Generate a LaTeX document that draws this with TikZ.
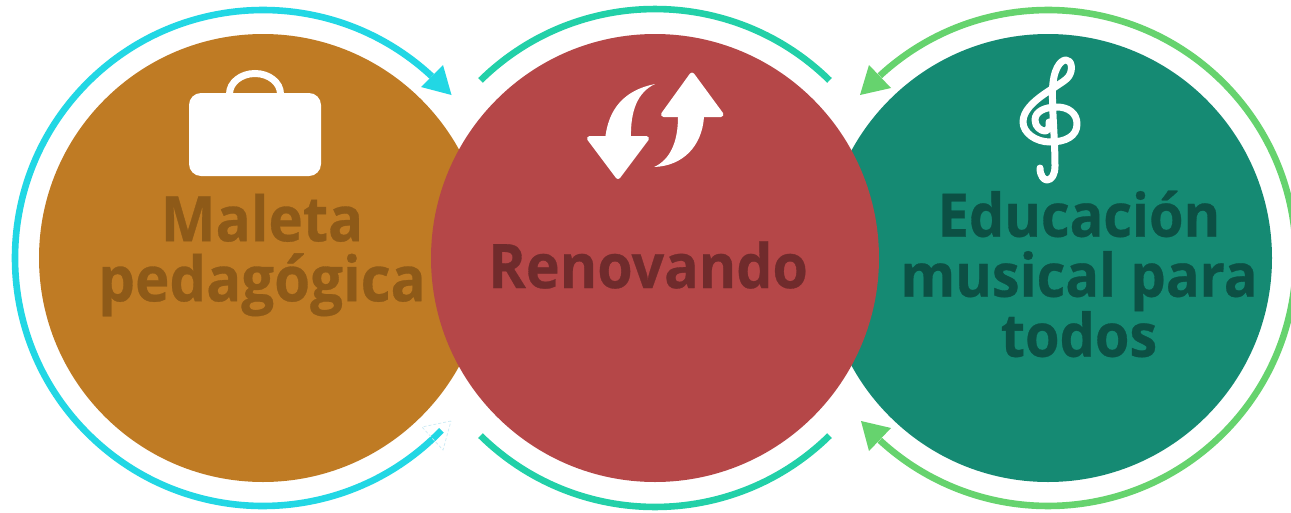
\documentclass[tikz,border=0pt]{standalone}
\usepackage{fontspec}
\setmainfont{Open Sans}
\newfontfamily\lblfont{Open Sans}[UprightFont={* Bold},FakeStretch=0.93,FakeBold=0.5]
\usetikzlibrary{calc}
\definecolor{cOch}{HTML}{BF7B24}
\definecolor{cRed}{HTML}{B54748}
\definecolor{cTeal}{HTML}{158A73}
\definecolor{tOch}{HTML}{8E5A18}
\definecolor{tRed}{HTML}{702B2C}
\definecolor{tTeal}{HTML}{0C5044}
\definecolor{rCyan}{HTML}{22D7E4}
\definecolor{rMint}{HTML}{22D0A8}
\definecolor{rGreen}{HTML}{66D36E}
\definecolor{rFaint}{HTML}{CDEBF5}
\tikzset{
  disc/.style={circle,minimum size=448pt,inner sep=0pt,fill=#1},
  lbl/.style={align=center,inner sep=0pt,text=#1},
  ring/.style={line width=6.6pt,draw=#1},
  glyph/.style={fill=white,draw=white,line join=round},
}
\begin{document}
\begin{tikzpicture}[x=1pt,y=-1pt]
\useasboundingbox (0,0) rectangle (1291,512);
\clip (0,0) rectangle (1291,512);
\fill[white] (0,0) rectangle (1291,512);
% discs
\node[disc=cOch] (L) at (263,258) {};
\node[disc=cTeal] (R) at (1048,258) {};
\node[disc=cRed] (M) at (655,258) {};
% left ring
\draw[ring=rCyan] ($(L)+(-47.1:248)$) arc[start angle=-47.1,end angle=-316,radius=248];
\fill[rCyan] (451.5,95) -- (443,65) -- (421,87) -- cycle;
% faint outline
\coordinate (fa) at (451,421);
\coordinate (fb) at (422,427);
\coordinate (fc) at (443,450);
\draw[rFaint,line width=.7pt,densely dashed] (fa) -- (fb) -- (fc) -- cycle;
% middle ring
\draw[ring=rMint] ($(M)+(-134.5:249)$) arc[start angle=-134.5,end angle=-45.5,radius=249];
\draw[ring=rMint] ($(M)+(134.5:249)$) arc[start angle=134.5,end angle=45.5,radius=249];
% right ring
\draw[ring=rGreen] ($(R)+(-132.7:248)$) arc[start angle=-132.7,end angle=132.7,radius=248];
\fill[rGreen] (860,95) -- (869,65) -- (891,88) -- cycle;
\fill[rGreen] (861,421) -- (891,428) -- (869,451) -- cycle;
% briefcase
\fill[white,rounded corners=12pt] (189,93) rectangle (321,176);
\draw[white,line width=7pt] (229.5,94) arc[start angle=180,end angle=360,x radius=25.5,y radius=20.5];
% refresh arrows
\fill[white] (605,140) .. controls (608,108) and (625,90) .. (655,84) .. controls (638,92) and (630,110) .. (631,140) -- cycle;
\draw[glyph,line width=5pt] (618,176.5) -- (589.5,138.5) -- (646.5,138.5) -- cycle;
\fill[white] (678,112) -- (678,117) .. controls (678,142) and (670,160) .. (654,167) .. controls (683,166) and (702,146) .. (704,117) -- (704,112) -- cycle;
\draw[glyph,line width=5pt] (692,75) -- (663.5,114.5) -- (721,114.5) -- cycle;
% clef
\draw[white,line width=7pt,line cap=round,line join=round] (1040,168) .. controls (1040,176) and (1044,180) .. (1047,180) .. controls (1052,180) and (1055,174) .. (1055,166)
 .. controls (1055,140) and (1052,110) .. (1052.5,90) .. controls (1053,70) and (1060,60) .. (1066,60) .. controls (1072,60) and (1073,70) .. (1069,76) .. controls (1064,85) and (1023,100) .. (1023,122)
 .. controls (1023,133) and (1036,142) .. (1050,142) .. controls (1066,142) and (1077,136) .. (1077,124) .. controls (1077,113) and (1068,107) .. (1057,107) .. controls (1044,107) and (1035,112) .. (1035,120) .. controls (1035,127) and (1041,131) .. (1045,131) .. controls (1048,131) and (1050,127) .. (1049,122);
% labels
\node[lbl=tOch,font=\lblfont\fontsize{62.5}{60}\selectfont] (tL) at (262,255) {Maleta\\pedagógica};
\node[lbl=tRed,font=\lblfont\fontsize{61.5}{60}\selectfont] (tM) at (648,265) {Renovando};
\node[lbl=tTeal,font=\lblfont\fontsize{60}{60}\selectfont] (tR) at (1079,274) {Educación\\musical para\\todos};
\end{tikzpicture}
\end{document}
